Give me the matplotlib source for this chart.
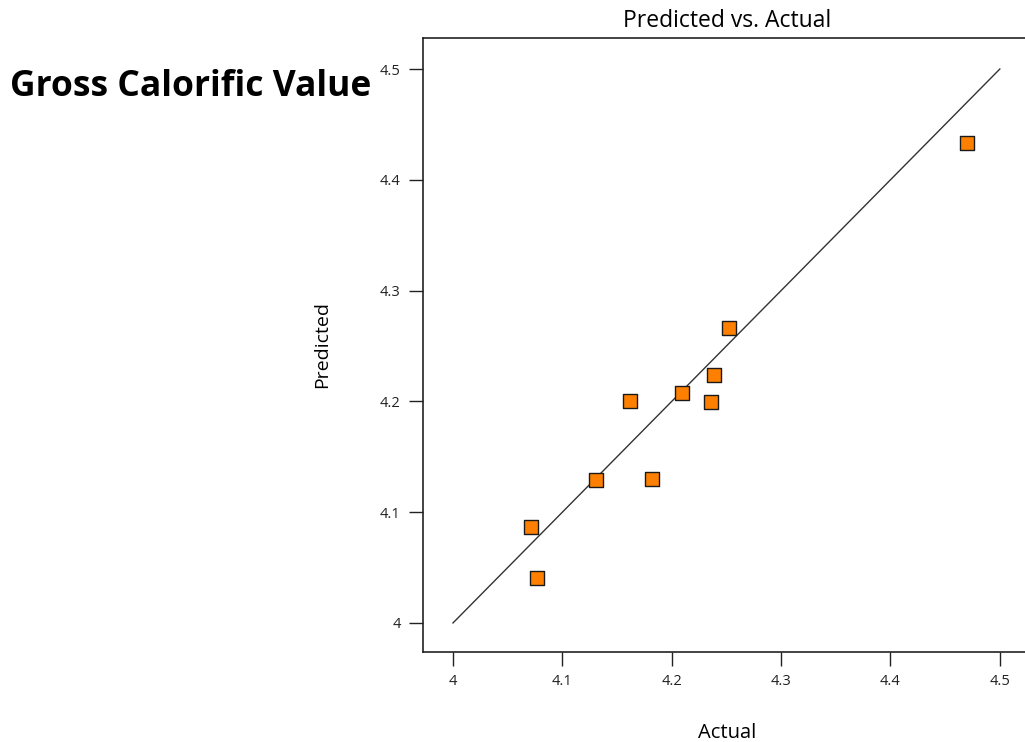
import matplotlib
matplotlib.use("Agg")
import matplotlib.pyplot as plt

plt.rcParams['font.family'] = ['Open Sans', 'DejaVu Sans']

# actual vs predicted gross calorific value
actual = [4.071, 4.077, 4.131, 4.162, 4.182, 4.209, 4.236, 4.239, 4.252, 4.470]
predicted = [4.087, 4.041, 4.129, 4.200, 4.130, 4.208, 4.199, 4.224, 4.266, 4.433]
ticks = [4, 4.1, 4.2, 4.3, 4.4, 4.5]
tick_labels = ["4", "4.1", "4.2", "4.3", "4.4", "4.5"]

fig = plt.figure(figsize=(10.25, 7.42), dpi=100)
ax = fig.add_axes([0.4127, 0.1213, 0.5873, 0.8275])

ax.plot([4, 4.5], [4, 4.5], color="#333333", linewidth=1.0, zorder=2)
ax.scatter(actual, predicted, marker="s", s=95, color="#ff8000",
           edgecolors="#1a1a1a", linewidths=1.0, zorder=3)

ax.set_xlim(3.9726, 4.523)
ax.set_ylim(3.9738, 4.528)
ax.set_xticks(ticks)
ax.set_xticklabels(tick_labels)
ax.set_yticks(ticks)
ax.set_yticklabels(tick_labels)
ax.tick_params(direction="out", length=10, width=1.0, labelsize=10.5, colors="#222222", pad=6)
ax.spines["right"].set_visible(False)
for s in ["left", "bottom", "top"]:
    ax.spines[s].set_linewidth(1.2)
    ax.spines[s].set_color("#222222")

ax.text(0.505, 1.028, "Predicted vs. Actual", fontsize=16.5, ha="center", va="center",
        transform=ax.transAxes)
ax.set_xlabel("Actual", fontsize=14.5)
ax.set_ylabel("Predicted", fontsize=14)
ax.xaxis.set_label_coords(0.505, -0.115)
ax.yaxis.set_label_coords(-0.152, 0.5)

fig.text(0.01, 0.883, "Gross Calorific Value", fontsize=25.5, fontweight="bold",
         ha="left", va="center")

fig.savefig("out.png", dpi=100)
